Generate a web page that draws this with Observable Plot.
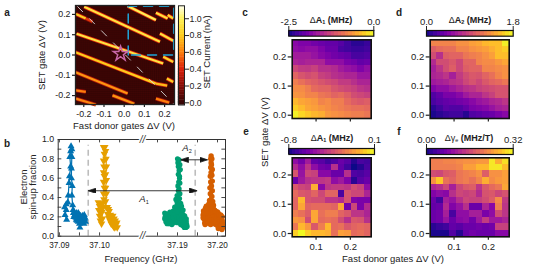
<!DOCTYPE html>
<html><head><meta charset="utf-8">
<script src="https://cdn.jsdelivr.net/npm/d3@7"></script>
<script src="https://cdn.jsdelivr.net/npm/@observablehq/plot@0.6"></script>
<style>
html,body{margin:0;padding:0;background:#fff;overflow:hidden}
#chart{position:relative;width:536px;height:277px;font-family:"Liberation Sans",Arial,sans-serif;color:#222}
#chart svg{position:absolute;left:0;top:0;background:transparent}
.t{position:absolute;font-size:9.5px;line-height:1;white-space:nowrap;transform:translate(-50%,-50%)}
.r{transform:translate(-50%,-50%) rotate(-90deg)}
.l{font-weight:bold;font-size:10px}
.h{font-size:9px}
.h b{font-weight:bold}
sub{font-size:5.5px;line-height:0;vertical-align:-1.5px}
i sub{font-style:normal}
</style></head><body><div id="chart"></div>
<script>
// ---------- panel a: SET current ridges (V, V, nA) ----------
const ridgeX1 = [-.198,.017,.157,.215,.177,-.239,-.190,-.236,.193,-.241,.157,.211,-.241,-.239,-.239,-.058,.157];
const ridgeY1 = [.238,.241,.208,.197,.106,.202,.180,.105,-.009,.014,-.141,-.116,-.085,-.174,-.215,-.199,-.215];
const ridgeX2 = [.177,.157,.215,.243,.243,-.190,-.157,.193,.243,.157,.213,.243,.017,-.190,-.140,.050,.223];
const ridgeY2 = [.065,.172,.180,.180,.070,.180,.164,-.042,-.034,-.141,-.151,-.133,-.190,-.182,-.245,-.240,-.235];
const ridgeI  = [.92,.98,.9,.85,.9,.82,.45,.92,.85,.8,.75,.82,.66,.6,.62,.66,.6];
const aTicksX = [-0.2,-0.1,0,0.1,0.2];
const aTicksY = [-0.2,-0.1,0,0.1,0.2];
const currentTicks = [0,0.2,0.4,0.6,0.8,1.0];
const boxX = [0.02,0.02,0.245,0.245,0.02];
const boxY = [0.0,0.24,0.24,0.0,0.0];

// ---------- panel b: spin-up fraction ----------
const fBlue = [37.0918,37.0914,37.0917,37.0913,37.0917,37.0921,37.0922,37.0924,37.0925,37.0928,37.0926,37.0928,37.0929,37.0931,37.0931,37.0930,37.0930,37.0932,37.0931,37.0933,37.0934,37.0937,37.0940,37.0936,37.0942,37.0945,37.0948,37.0944,37.0950,37.0951,37.0955,37.0958,37.0960,37.0957,37.0962,37.0964,37.0965,37.0961,37.0963,37.0959,37.0955,37.0953,37.0949,37.0947,37.0943,37.0941,37.0938,37.0935,37.0947,37.0952];
const pBlue = [.17,.22,.27,.30,.33,.35,.42,.55,.62,.72,.82,.88,.93,.90,.82,.70,.60,.52,.42,.32,.27,.25,.22,.20,.17,.20,.23,.16,.13,.09,.19,.21,.16,.14,.22,.19,.15,.13,.18,.18,.15,.21,.18,.24,.24,.19,.22,.24,.15,.16];
const fYellow = [37.0997,37.1000,37.0998,37.1001,37.1003,37.1000,37.1004,37.1002,37.1005,37.1007,37.1006,37.1009,37.1008,37.1011,37.1010,37.1012,37.1010,37.1012,37.1010,37.1011,37.1010,37.1012,37.1010,37.1013,37.1015,37.1016,37.1017,37.1015,37.1017,37.1015,37.1017,37.1015,37.1017,37.1019,37.1022,37.1020,37.1024,37.1023,37.1027,37.1026,37.1030,37.1029,37.1033,37.1032,37.1036,37.1035,37.1039,37.1041,37.1038,37.1043,37.1044];
const pYellow = [.35,.31,.27,.34,.24,.21,.28,.16,.13,.18,.25,.30,.34,.38,.44,.50,.56,.62,.66,.72,.78,.85,.92,.92,.88,.80,.72,.64,.58,.50,.44,.36,.30,.30,.28,.23,.26,.19,.22,.16,.20,.13,.21,.12,.18,.10,.16,.12,.09,.14,.09];
const fGreen = [37.1868,37.1869,37.1871,37.1868,37.1873,37.1875,37.1877,37.1879,37.1882,37.1880,37.1884,37.1886,37.1887,37.1889,37.1891,37.1893,37.1895,37.1894,37.1897,37.1899,37.1896,37.1899,37.1902,37.1901,37.1903,37.1905,37.1902,37.1904,37.1902,37.1901,37.1900,37.1904,37.1906,37.1907,37.1905,37.1906,37.1904,37.1906,37.1905,37.1908,37.1907,37.1910,37.1906,37.1909,37.1912,37.1911,37.1914,37.1916,37.1913,37.1918,37.1920,37.1917,37.1922,37.1923,37.1921,37.1924,37.1922,37.1919,37.1915,37.1912,37.1908,37.1905,37.1902,37.1900,37.1898,37.1896,37.1892,37.1890,37.1888,37.1885,37.1883,37.1881,37.1878,37.1876,37.1874,37.1872,37.1870,37.1901,37.1898,37.1903,37.1900,37.1910,37.1914,37.1918];
const pGreen = [.24,.20,.15,.18,.22,.16,.23,.13,.21,.17,.24,.12,.19,.26,.14,.30,.22,.16,.28,.35,.38,.42,.47,.52,.56,.60,.64,.68,.72,.76,.80,.79,.74,.69,.62,.55,.49,.44,.39,.34,.28,.31,.23,.18,.26,.14,.22,.17,.11,.21,.14,.09,.18,.12,.09,.10,.15,.18,.13,.20,.12,.17,.22,.14,.20,.25,.19,.22,.16,.19,.15,.25,.19,.20,.13,.19,.23,.27,.31,.33,.25,.22,.27,.12];
const fOrange = [37.1964,37.1966,37.1965,37.1968,37.1967,37.1970,37.1971,37.1969,37.1973,37.1972,37.1975,37.1977,37.1976,37.1978,37.1979,37.1980,37.1981,37.1980,37.1982,37.1981,37.1983,37.1982,37.1984,37.1983,37.1984,37.1983,37.1984,37.1986,37.1985,37.1987,37.1986,37.1987,37.1985,37.1987,37.1986,37.1988,37.1987,37.1990,37.1989,37.1991,37.1988,37.1993,37.1995,37.1992,37.1997,37.1999,37.1996,37.2001,37.2003,37.2000,37.2004,37.2006,37.2002,37.2005,37.2007,37.2008,37.2010,37.2012,37.2014,37.2011,37.2013,37.2009,37.2012,37.2009,37.2007,37.2004,37.2001,37.1998,37.1996,37.1994,37.1992,37.1990,37.1987,37.1985,37.1984,37.1982,37.1983,37.1979,37.1977,37.1974,37.1971,37.1969,37.1966,37.1964,37.1973,37.1989,37.1994,37.2000,37.2003,37.2008,37.1983,37.1986];
const pOrange = [.22,.18,.26,.14,.22,.29,.17,.12,.24,.31,.19,.14,.27,.33,.22,.13,.29,.37,.44,.50,.56,.62,.66,.71,.76,.80,.83,.80,.74,.69,.63,.57,.52,.47,.41,.36,.30,.32,.25,.19,.14,.27,.22,.13,.25,.19,.12,.24,.17,.11,.21,.14,.08,.09,.18,.12,.15,.20,.13,.07,.09,.21,.16,.18,.13,.17,.20,.15,.22,.17,.21,.15,.20,.28,.17,.25,.12,.17,.24,.16,.24,.18,.24,.19,.28,.30,.26,.25,.23,.22,.34,.35];
const bMajorX = [37.09,37.10,37.19,37.20];
const bMinorX = [37.095,37.105,37.185,37.195];
const bMajorY = [0,0.2,0.4,0.6,0.8,1.0];
const bMinorY = [0.1,0.3,0.5,0.7,0.9];
const bDashed = [37.09718,37.19443];

// ---------- panels c-f: position of each cell on its colour bar (% of the bar), top row first ----------
const fastGates = [.0400,.0592,.0784,.0976,.1168,.1360,.1552,.1744,.1936,.2128,.2320,.2512];
const setGates = [.2475,.225,.2025,.18,.1575,.135,.1125,.09,.0675,.045,.0225,0];
const dA1c = [
[28,25,25,22,20,18,18,15,10,5,5,8],
[30,28,30,30,25,20,20,12,10,8,8,10],
[35,35,35,32,28,25,22,20,18,12,12,14],
[38,36,38,38,38,30,30,30,24,22,18,20],
[50,46,45,48,42,42,40,35,32,30,25,30],
[60,55,52,54,48,46,42,40,38,38,33,33],
[68,64,60,58,55,52,50,46,46,42,38,38],
[72,72,68,62,60,60,55,52,50,48,44,42],
[75,74,70,70,66,64,60,62,58,52,50,48],
[84,80,78,76,70,72,68,68,62,58,56,58],
[90,85,80,78,75,73,70,68,66,64,64,62],
[98,92,88,84,82,76,74,72,70,68,68,66]];
const dA2d = [
[70,70,70,70,74,74,78,80,84,86,86,98],
[58,62,64,64,70,70,74,76,78,82,86,90],
[52,42,58,60,60,66,68,70,74,78,86,86],
[40,52,52,56,50,60,60,70,72,72,76,80],
[36,44,52,58,50,58,60,60,70,70,72,74],
[38,40,44,36,46,52,56,55,60,64,70,74],
[34,36,38,42,44,50,54,50,56,60,62,66],
[26,30,30,34,38,42,44,48,50,52,54,54],
[14,18,24,24,28,34,38,38,44,48,54,54],
[12,16,18,20,22,24,28,32,34,38,40,44],
[5,10,16,14,14,18,24,26,28,32,36,38],
[2,5,8,10,10,4,14,16,18,20,24,28]];
const dA1e = [
[30,22,35,18,16,10,14,20,16,4,12,10],
[40,30,44,30,22,20,42,18,10,0,4,12],
[55,32,50,48,28,28,20,20,42,14,12,16],
[20,34,42,44,44,46,30,34,26,5,16,20],
[56,50,48,82,28,44,46,46,44,52,48,30],
[62,56,54,60,50,60,60,12,55,50,50,38],
[60,84,54,52,52,44,44,40,54,26,24,24],
[60,80,60,62,62,62,60,80,22,50,24,40],
[68,64,58,80,64,68,68,60,56,44,44,38],
[76,74,52,80,62,64,62,52,42,56,54,42],
[66,84,76,56,68,84,62,64,56,60,62,60],
[90,100,90,84,84,82,64,78,76,62,64,60]];
const dGammaf = [
[68,68,70,70,72,74,74,76,76,96,82,94],
[68,68,68,68,70,78,78,84,84,96,96,86],
[52,50,56,58,66,68,70,74,58,74,74,78],
[74,88,64,60,66,68,64,70,82,72,76,78],
[38,42,50,36,50,56,58,44,56,62,66,80],
[26,30,28,42,50,48,50,40,54,56,50,54],
[20,10,36,32,42,50,48,48,52,58,72,46],
[18,20,40,26,32,42,20,20,38,28,68,44],
[20,22,36,12,30,30,36,36,24,30,52,44],
[20,22,32,20,28,30,22,34,46,34,34,38],
[5,8,10,18,16,20,20,22,20,22,48,48],
[2,2,2,14,4,18,22,20,20,20,28,28]];
const heatTicksX = [0.1,0.2];
const heatTicksY = [0,0.1,0.2];

const W = 536, H = 277;
const root = document.getElementById("chart");
const ink = "#222";
const base = (l, r, t, b) => ({
  width: W, height: H, marginLeft: l, marginRight: W - r, marginTop: t, marginBottom: H - b,
  style: {background: "transparent", fontFamily: '"Liberation Sans",Arial,sans-serif', fontSize: "9.5px", color: ink, overflow: "visible"}
});
const add = (o) => root.appendChild(Plot.plot(o));
const f1 = (d) => d.toFixed(1);
const text = (html, x, y, cls = "") => {
  const el = document.createElement("div");
  el.className = "t " + cls; el.innerHTML = html;
  el.style.left = x + "px"; el.style.top = y + "px";
  root.appendChild(el);
};

// ---- panel a
const hotDomain = [0, 0.2, 0.4, 0.6, 0.8, 1.0, 1.154];
const hotRange = ["#380606", "#860e08", "#dc200a", "#fc7e0c", "#fdcc1c", "#fff25a", "#fffff0"];
const hot = {type: "linear", domain: hotDomain, range: hotRange, clamp: true};
const ridges = ridgeX1.map((_, i) => ({x1: ridgeX1[i], y1: ridgeY1[i], x2: ridgeX2[i], y2: ridgeY2[i], halo: ridgeI[i] * 0.45, core: ridgeI[i]}));
add({
  ...base(75, 174, 5, 104),
  x: {domain: [-0.241, 0.249]}, y: {domain: [-0.244, 0.244]}, color: hot,
  marks: [
    Plot.rect([{}], {x1: -0.241, x2: 0.249, y1: -0.244, y2: 0.244, fill: () => 0.02}),
    Plot.gridX(d3.ticks(-0.24, 0.24, 40), {stroke: "#1c0202", strokeOpacity: 0.3, strokeWidth: 0.5}),
    Plot.gridY(d3.ticks(-0.24, 0.24, 40), {stroke: "#1c0202", strokeOpacity: 0.3, strokeWidth: 0.5}),
    Plot.link(ridges, {x1: "x1", y1: "y1", x2: "x2", y2: "y2", stroke: "halo", strokeWidth: 3.8, strokeOpacity: 1}),
    Plot.link(ridges, {x1: "x1", y1: "y1", x2: "x2", y2: "y2", stroke: "core", strokeWidth: 2.2}),
    Plot.link([{}], {x1: -0.232, y1: 0.24, x2: 0.244, y2: -0.24, stroke: "#d8d8d8", strokeWidth: 0.9, strokeDasharray: "8 9"}),
    Plot.line(boxX.map((x, i) => [x, boxY[i]]), {x: "0", y: "1", stroke: "#1fa4d8", strokeWidth: 1.5, strokeDasharray: "9 7"}),
    Plot.dot([[-0.018, 0.006]], {x: "0", y: "1", symbol: "star", r: 4.6, stroke: "#c868a8", strokeWidth: 1.5, fill: "none"}),
    Plot.frame({stroke: ink, strokeWidth: 1.3}),
    Plot.axisX({ticks: aTicksX, tickFormat: f1, tickSize: 3, tickPadding: 3, label: null, strokeWidth: 1.2, fontSize: 8.8}),
    Plot.axisY({ticks: aTicksY, tickFormat: f1, tickSize: 3, tickPadding: 2, label: null, strokeWidth: 1.2, fontSize: 8.8})
  ]
});
const barSteps = d3.range(60);
add({
  ...base(178, 184, 5.3, 104.5),
  x: {domain: [0, 1], axis: null}, y: {domain: [-0.026, 1.154]}, color: hot,
  marks: [
    Plot.rect(barSteps, {x1: 0, x2: 1, y1: (i) => -0.026 + 1.18 * i / 60, y2: (i) => -0.026 + 1.18 * (i + 1) / 60, fill: (i) => -0.026 + 1.18 * (i + 0.5) / 60, inset: -0.2}),
    Plot.frame({stroke: ink, strokeWidth: 1}),
    Plot.axisY({anchor: "right", ticks: currentTicks, tickFormat: f1, tickSize: 4, tickPadding: 1, label: null, strokeWidth: 1, fontSize: 8.8})
  ]
});
text("a", 7, 13, "l");
text("SET gate ΔV (V)", 42, 55, "r");
text("Fast donor gates ΔV (V)", 124, 126);
text("SET Current (nA)", 207, 52, "r");

// ---- panel b
const xDom = [37.0897, 37.1107, 37.18125, 37.2020];
const bCols = {blue: "#0072B2", yellow: "#E69F00", green: "#009E73", orange: "#D55E00"};
const series = (fx, py, col, symbol, r, rotate = 0) => [
  Plot.line(fx, {x: fx, y: py, stroke: col, strokeWidth: 1.2}),
  Plot.dot(fx, {x: fx, y: py, fill: col, symbol, r, rotate})
];
const head = (color) => {
  const m = document.createElementNS("http://www.w3.org/2000/svg", "marker");
  m.setAttribute("viewBox", "0 -3 9 6");
  m.setAttribute("markerWidth", 8);
  m.setAttribute("markerHeight", 5.4);
  m.setAttribute("refX", 9);
  m.setAttribute("refY", 0);
  m.setAttribute("markerUnits", "userSpaceOnUse");
  m.setAttribute("orient", "auto-start-reverse");
  const p = document.createElementNS("http://www.w3.org/2000/svg", "path");
  p.setAttribute("d", "M0,-3L9,0L0,3Z");
  p.setAttribute("fill", "#111");
  m.appendChild(p);
  return m;
};
add({
  ...base(57.7, 225, 139, 235.7),
  x: {type: "linear", domain: xDom, range: [57.7, 142, 142, 225]},
  y: {domain: [0, 1]},
  marks: [
    Plot.ruleX(bDashed, {y1: 0, y2: 0.94, stroke: "#bdbdbd", strokeWidth: 1.6, strokeDasharray: "6 4"}),
    ...series(fBlue, pBlue, bCols.blue, "triangle", 2.6),
    ...series(fYellow, pYellow, bCols.yellow, "triangle", 2.8, 180),
    ...series(fGreen, pGreen, bCols.green, "circle", 2.6),
    ...series(fOrange, pOrange, bCols.orange, "circle", 2.7),
    Plot.link([{}], {x1: 37.09718, x2: 37.19493, y1: 0.47, y2: 0.47, stroke: "#222", strokeWidth: 0.9, markerStart: head, markerEnd: head}),
    Plot.link([{}], {x1: 37.19075, x2: 37.1975, y1: 0.79, y2: 0.79, stroke: "#222", strokeWidth: 0.9, markerStart: head, markerEnd: head}),
    Plot.frame({stroke: "#333", strokeWidth: 1}),
    Plot.ruleX([...bMajorX, ...bMinorX], {y1: 0, y2: 0.035, stroke: "#333", strokeWidth: 0.9}),
    Plot.ruleX([...bMajorX, ...bMinorX], {y1: 1, y2: 0.965, stroke: "#333", strokeWidth: 0.9}),
    Plot.ruleY([...bMajorY, ...bMinorY], {x1: xDom[0], x2: 37.0906, stroke: "#333", strokeWidth: 0.9}),
    Plot.ruleY([...bMajorY, ...bMinorY], {x1: xDom[3], x2: 37.2011, stroke: "#333", strokeWidth: 0.9}),
    Plot.text([0, 1], {x: xDom[1], y: (d) => d, text: () => "//", fontSize: 10, fontStyle: "italic", fill: "#333", stroke: "#fff", strokeWidth: 3, paintOrder: "stroke"}),
    Plot.axisX({ticks: bMajorX, tickFormat: (d) => d.toFixed(2), tickSize: 0, tickPadding: 6, label: null, fontSize: 8.2}),
    Plot.axisY({ticks: bMajorY, tickFormat: f1, tickSize: 0, tickPadding: 4, label: null, fontSize: 8.8})
  ]
});
text("b", 7, 144, "l");
text("Electron", 24, 187, "r");
text("spin-up fraction", 33, 187, "r");
text("Frequency (GHz)", 141, 259);
text('<i>A<sub>1</sub></i>', 144, 199);
text('<i>A<sub>2</sub></i>', 187, 148);

// ---- panels c-f
const panels = [
  {grid: dA1c, lo: -2.5, hi: 0, tickLab: ["-2.5", "0.0"], l: 291.7, r: 370.7, t: 39.3, b: 118, bl: 288.3, br: 373.3, bt: 30, bb: 35.7, labelled: false},
  {grid: dA2d, lo: 0, hi: 1.8, tickLab: ["0.0", "1.8"], l: 429.7, r: 508.7, t: 39.3, b: 118, bl: 426, br: 512.7, bt: 30, bb: 35.7, labelled: false},
  {grid: dA1e, lo: -0.8, hi: 0.1, tickLab: ["-0.8", "0.1"], l: 291.7, r: 370.7, t: 157.3, b: 236.3, bl: 288.3, br: 374, bt: 148, bb: 154, labelled: true},
  {grid: dGammaf, lo: 0, hi: 0.32, tickLab: ["0.00", "0.32"], l: 429.7, r: 508.7, t: 157.3, b: 236.3, bl: 426, br: 512.7, bt: 148, bb: 154, labelled: true}
];
const hx = 0.0097, hy = 0.0114;
for (const p of panels) {
  const color = {type: "linear", scheme: "plasma", domain: [p.lo, p.hi]};
  const val = (pct) => p.lo + (p.hi - p.lo) * pct / 100;
  const cells = p.grid.flatMap((row, j) => row.map((pct, i) => ({x: fastGates[i], y: setGates[j], v: val(pct)})));
  add({
    ...base(p.l, p.r, p.t, p.b),
    x: {domain: [0.0304, 0.2608]}, y: {domain: [-0.01125, 0.25875]}, color,
    marks: [
      Plot.rect(cells, {x1: (d) => d.x - hx, x2: (d) => d.x + hx, y1: (d) => d.y - hy, y2: (d) => d.y + hy, fill: "v", shapeRendering: "crispEdges"}),
      Plot.frame({stroke: "#111", strokeWidth: 1.6}),
      Plot.axisX({ticks: heatTicksX, tickFormat: p.labelled ? f1 : () => "", tickSize: 3.5, tickPadding: 3, label: null, strokeWidth: 1.2}),
      Plot.axisY({ticks: heatTicksY, tickFormat: f1, tickSize: 4, tickPadding: 2, label: null, strokeWidth: 1.2})
    ]
  });
  const n = 24, step = (p.hi - p.lo) / n;
  add({
    ...base(p.bl, p.br, p.bt, p.bb),
    x: {domain: [p.lo, p.hi]}, y: {domain: [0, 1], axis: null}, color,
    marks: [
      Plot.rect(d3.range(n), {x1: (i) => p.lo + i * step, x2: (i) => p.lo + (i + 1) * step, y1: 0, y2: 1, fill: (i) => p.lo + (i + 0.5) * step, shapeRendering: "crispEdges", inset: -0.2}),
      Plot.frame({stroke: "#111", strokeWidth: 1.2}),
      Plot.axisX({anchor: "top", ticks: [p.lo, p.hi], tickFormat: (d) => p.tickLab[d === p.lo ? 0 : 1], tickSize: 5, tickPadding: 1, label: null, strokeWidth: 1})
    ]
  });
}
text("c", 245, 13, "l");
text("d", 399, 13, "l");
text("e", 246, 132, "l");
text("f", 399, 132, "l");
text('Δ<b>A<sub>1</sub> (MHz)</b>', 331, 20, "h");
text('Δ<b>A<sub>2</sub> (MHz)</b>', 470, 20, "h");
text('Δ<b>A<sub>1</sub> (MHz)</b>', 332, 138, "h");
text('Δγ<sub>e</sub> <b>(MHz/T)</b>', 469, 138, "h");
text("SET gate ΔV (V)", 265, 132, "r");
text("Fast donor gates ΔV (V)", 393, 259);
</script></body></html>
